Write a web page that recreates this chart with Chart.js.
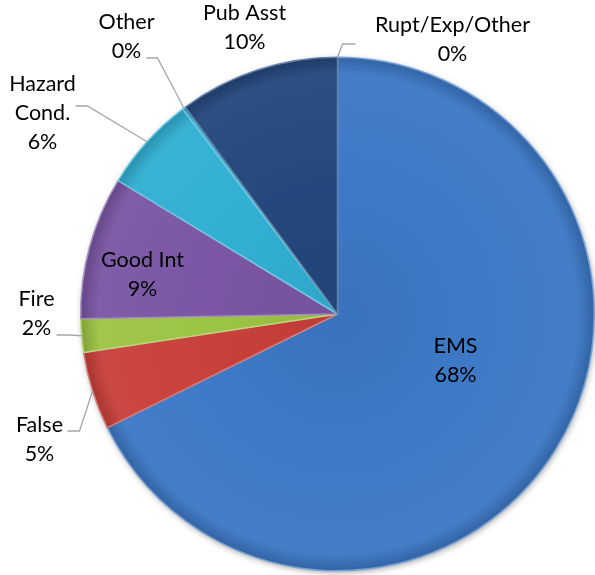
<!DOCTYPE html>
<html>
<head>
<meta charset="utf-8">
<script src="https://cdn.jsdelivr.net/npm/chart.js@4.4.1/dist/chart.umd.min.js"></script>
<style>
    html, body { margin: 0; padding: 0; background: #ffffff; }
    #wrap { width: 595px; height: 575px; position: relative; }
</style>
</head>
<body>
<div id="wrap"><canvas id="pie-chart" width="595" height="575"></canvas></div>
<script>
// Chart data (share of calls in %)
const categories = ['EMS', 'False', 'Fire', 'Good Int', 'Hazard\nCond.', 'Other', 'Pub Asst', 'Rupt/Exp/Other'];
const shares = [67.7, 4.9, 2.1, 9.0, 6.0, 0.2, 10.1, 0.0];
const sliceColors = ['#3d79c6', '#c9403a', '#9cc444', '#7a56a4', '#31afd2', '#31afd2', '#24487d', '#4a4a4a'];

// Label placement, relative to the pie centre (text block centre)
const labelOffsets = [
    [118, 47], [-298, 126], [-301, 0], [-195, -39],
    [-295, -201], [-211, -277], [-93, -286], [115, -274]
];
// Leader line start (next to the text) for outside labels, relative to the centre; null = inside label
const leaderStarts = [
    null, [-270, 117, 12], [-281, 21, 13], null,
    [-262, -208, 12], [-191, -256, 11], null, [18, -270, -13]
];

const FONT = '21.5px Lato, "Open Sans", sans-serif';
const LINE_H = 29;

function shade(hex, amt) {
    const n = parseInt(hex.slice(1), 16);
    let r = (n >> 16) & 255, g = (n >> 8) & 255, b = n & 255;
    const f = v => Math.max(0, Math.min(255, Math.round(amt >= 0 ? v + (255 - v) * amt : v * (1 + amt))));
    return `rgb(${f(r)}, ${f(g)}, ${f(b)})`;
}

// Soft shadow under the pie
const shadowPlugin = {
    id: 'pieShadow',
    beforeDatasetsDraw(chart) {
        const arc = chart.getDatasetMeta(0).data[0];
        if (!arc) return;
        const { x, y, outerRadius } = arc.getProps(['x', 'y', 'outerRadius'], true);
        const ctx = chart.ctx;
        ctx.save();
        ctx.shadowColor = 'rgba(0, 0, 0, 0.45)';
        ctx.shadowBlur = 7;
        ctx.shadowOffsetX = 1;
        ctx.shadowOffsetY = 2;
        ctx.fillStyle = '#3d79c6';
        ctx.beginPath();
        ctx.arc(x, y, outerRadius - 1, 0, Math.PI * 2);
        ctx.fill();
        ctx.restore();
    }
};

// Data labels with leader lines
const labelPlugin = {
    id: 'sliceLabels',
    afterDatasetsDraw(chart) {
        const ctx = chart.ctx;
        const meta = chart.getDatasetMeta(0);
        const total = shares.reduce((a, b) => a + b, 0);
        ctx.save();
        ctx.font = FONT;
        ctx.fillStyle = '#000000';
        ctx.textAlign = 'center';
        ctx.textBaseline = 'middle';
        meta.data.forEach((arc, i) => {
            const { x, y, outerRadius, startAngle, endAngle } =
                arc.getProps(['x', 'y', 'outerRadius', 'startAngle', 'endAngle'], true);
            const lines = categories[i].split('\n');
            lines.push(Math.round(shares[i] / total * 100) + '%');
            const cx = x + labelOffsets[i][0];
            const cy = y + labelOffsets[i][1];
            const top = cy - (lines.length - 1) * LINE_H / 2;
            lines.forEach((t, k) => ctx.fillText(t, cx, top + k * LINE_H));

            const ls = leaderStarts[i];
            if (ls) {
                const mid = (startAngle + endAngle) / 2;
                const px = x + outerRadius * Math.cos(mid);
                const py = y + outerRadius * Math.sin(mid);
                ctx.strokeStyle = '#a6a6a6';
                ctx.lineWidth = 1.3;
                ctx.beginPath();
                ctx.moveTo(x + ls[0], y + ls[1]);
                ctx.lineTo(x + ls[0] + ls[2], y + ls[1]);
                ctx.lineTo(px, py);
                ctx.stroke();
            }
        });
        ctx.restore();
    }
};

function sliceFill(context) {
    const chart = context.chart;
    const area = chart.chartArea;
    const base = sliceColors[context.dataIndex];
    if (!area) return base;
    const cx = (area.left + area.right) / 2;
    const cy = (area.top + area.bottom) / 2;
    const r = Math.min(area.right - area.left, area.bottom - area.top) / 2;
    const g = chart.ctx.createRadialGradient(cx, cy, 0, cx, cy, r);
    g.addColorStop(0, shade(base, -0.05));
    g.addColorStop(0.5, base);
    g.addColorStop(0.93, shade(base, 0.04));
    g.addColorStop(1, shade(base, -0.18));
    return g;
}

const pieChart = new Chart(document.getElementById('pie-chart').getContext('2d'), {
    type: 'pie',
    data: {
        labels: categories,
        datasets: [{
            data: shares,
            backgroundColor: sliceFill,
            borderColor: sliceColors.map(c => shade(c, 0.3)),
            borderWidth: 1.5
        }]
    },
    options: {
        responsive: false,
        animation: false,
        layout: { padding: { left: 80, right: 0, top: 56, bottom: 3 } },
        plugins: {
            legend: { display: false },
            tooltip: { enabled: false }
        }
    },
    plugins: [shadowPlugin, labelPlugin]
});
</script>
</body>
</html>
